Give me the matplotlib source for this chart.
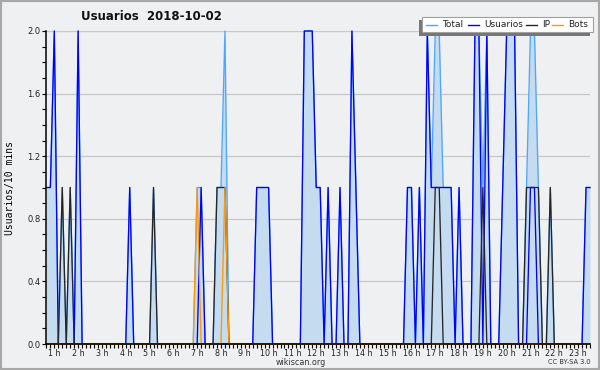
import matplotlib
matplotlib.use('Agg')
import matplotlib.pyplot as plt
from matplotlib.patches import Rectangle
from matplotlib.lines import Line2D
import numpy as np

# one value per 10 minutes, first bin at 0:40
start_minute = 40
usuarios = [1, 1, 2, 0, 0, 0, 0, 0, 2, 0,
            0, 0, 0, 0, 0, 0, 0, 0, 0, 0,
            0, 1, 0, 0, 0, 0, 0, 0, 0, 0,
            0, 0, 0, 0, 0, 0, 0, 0, 0, 1,
            0, 0, 0, 0, 0, 0, 0, 0, 0, 0,
            0, 0, 0, 1, 1, 1, 1, 0, 0, 0,
            0, 0, 0, 0, 0, 2, 2, 2, 1, 1,
            0, 1, 0, 0, 1, 0, 0, 2, 1, 0,
            0, 0, 0, 0, 0, 0, 0, 0, 0, 0,
            0, 1, 1, 0, 1, 0, 2, 1, 1, 1,
            1, 1, 1, 0, 1, 0, 0, 0, 2, 2,
            0, 2, 0, 0, 0, 1, 2, 2, 2, 0,
            0, 0, 1, 1, 0, 0, 0, 0, 0, 0,
            0, 0, 0, 0, 0, 0, 1, 1]
ip = [0, 0, 0, 0, 1, 0, 1, 0, 0, 0,
      0, 0, 0, 0, 0, 0, 0, 0, 0, 0,
      0, 0, 0, 0, 0, 0, 0, 1, 0, 0,
      0, 0, 0, 0, 0, 0, 0, 0, 0, 0,
      0, 0, 0, 1, 1, 1, 0, 0, 0, 0,
      0, 0, 0, 0, 0, 0, 0, 0, 0, 0,
      0, 0, 0, 0, 0, 0, 0, 0, 0, 0,
      0, 0, 0, 0, 0, 0, 0, 0, 0, 0,
      0, 0, 0, 0, 0, 0, 0, 0, 0, 0,
      0, 0, 0, 0, 0, 0, 0, 0, 1, 1,
      0, 0, 0, 0, 0, 0, 0, 0, 0, 0,
      1, 0, 0, 0, 0, 0, 0, 0, 0, 0,
      0, 1, 1, 1, 1, 0, 0, 1, 0, 0,
      0, 0, 0, 0, 0, 0, 0, 0]
bots = [0, 0, 0, 0, 0, 0, 0, 0, 0, 0,
        0, 0, 0, 0, 0, 0, 0, 0, 0, 0,
        0, 0, 0, 0, 0, 0, 0, 0, 0, 0,
        0, 0, 0, 0, 0, 0, 0, 0, 1, 0,
        0, 0, 0, 0, 0, 1, 0, 0, 0, 0,
        0, 0, 0, 0, 0, 0, 0, 0, 0, 0,
        0, 0, 0, 0, 0, 0, 0, 0, 0, 0,
        0, 0, 0, 0, 0, 0, 0, 0, 0, 0,
        0, 0, 0, 0, 0, 0, 0, 0, 0, 0,
        0, 0, 0, 0, 0, 0, 0, 0, 0, 0,
        0, 0, 0, 0, 0, 0, 0, 0, 0, 0,
        0, 0, 0, 0, 0, 0, 0, 0, 0, 0,
        0, 0, 0, 0, 0, 0, 0, 0, 0, 0,
        0, 0, 0, 0, 0, 0, 0, 0]
total = [1, 1, 2, 0, 1, 0, 1, 0, 2, 0,
         0, 0, 0, 0, 0, 0, 0, 0, 0, 0,
         0, 1, 0, 0, 0, 0, 0, 1, 0, 0,
         0, 0, 0, 0, 0, 0, 0, 0, 1, 1,
         0, 0, 0, 1, 1, 2, 0, 0, 0, 0,
         0, 0, 0, 1, 1, 1, 1, 0, 0, 0,
         0, 0, 0, 0, 0, 2, 2, 2, 1, 1,
         0, 1, 0, 0, 1, 0, 0, 2, 1, 0,
         0, 0, 0, 0, 0, 0, 0, 0, 0, 0,
         0, 1, 1, 0, 1, 0, 2, 1, 2, 2,
         1, 1, 1, 0, 1, 0, 0, 0, 2, 2,
         1, 2, 0, 0, 0, 1, 2, 2, 2, 0,
         0, 1, 2, 2, 1, 0, 0, 1, 0, 0,
         0, 0, 0, 0, 0, 0, 1, 1]
hours = list(range(1, 24))
hour_labels = [f'{h} h' for h in hours]
y_ticks = [0.0, 0.4, 0.8, 1.2, 1.6, 2.0]

series = [('Total', total, '#4da6ff'), ('Usuarios', usuarios, '#0000ff'),
          ('IP', ip, '#262626'), ('Bots', bots, '#ff9900')]

W, H = 600, 370
bg = '#eff0f2'
fx = lambda px: px / W
fy = lambda py: 1 - py / H

fig = plt.figure(figsize=(6, 3.7), dpi=100, facecolor=bg)
ax = fig.add_axes([fx(46), fy(344), (590 - 46) / W, (344 - 31) / H])
ax.set_facecolor(bg)

x = np.arange(len(total))
ax.fill_between(x, total, 0, color='#c4dbf0', lw=0, zorder=2)
for name, vals, col in series:
    ax.plot(x, vals, color=col, lw=0.95, zorder=3, clip_on=False)

ax.set_xlim(-0.1, len(total) - 1)
ax.set_ylim(0, 2.0)

ax.set_yticks(y_ticks)
ax.set_yticklabels([f'{v:.1f}' for v in y_ticks])
ax.set_yticks(np.arange(0, 2.01, 0.1), minor=True)
hour_pos = [(h * 60 - start_minute) / 10 for h in hours]
ax.set_xticks(hour_pos)
ax.set_xticklabels(hour_labels)
ax.set_xticks(x, minor=True)
ax.tick_params(axis='both', which='both', direction='out', length=3, width=0.8,
               color='black', labelsize=6, pad=1, labelcolor='#222222')
ax.tick_params(axis='x', which='major', labelsize=5.8, pad=0.3)
ax.grid(axis='y', which='major', color='#c8c8c8', lw=0.9, zorder=1)
for s in ['top', 'right']:
    ax.spines[s].set_visible(False)
for s in ['left', 'bottom']:
    ax.spines[s].set_linewidth(1.1)
    ax.spines[s].set_zorder(5)

fig.text(fx(151), fy(17), 'Usuarios  2018-10-02', ha='center', va='center',
         fontsize=8.5, fontweight='bold', color='#111111')
fig.text(fx(10), fy(188), 'Usuarios/10 mins', rotation=90, ha='center', va='center',
         fontsize=7, family='DejaVu Sans Mono')
fig.text(fx(300.5), fy(362.5), 'wikiscan.org', ha='center', va='center', fontsize=5.8,
         color='#333333')
fig.text(fx(569), fy(362.5), 'CC BY-SA 3.0', ha='center', va='center', fontsize=4.8,
         color='#333333')

# legend box with shadow down-left
fig.add_artist(Rectangle((fx(418.5), fy(35.5)), (593 - 421.5) / W, 15 / H,
                         transform=fig.transFigure, facecolor='#777777', lw=0, zorder=8))
fig.add_artist(Rectangle((fx(421.5), fy(32)), (593 - 421.5) / W, 15 / H,
                         transform=fig.transFigure, facecolor='white',
                         edgecolor='#a0a0a0', lw=0.8, zorder=9))
leg_pos = [(426, 442.5), (468, 484), (526, 542), (552, 568)]
for (name, vals, col), (lx, tx) in zip(series, leg_pos):
    fig.add_artist(Line2D([fx(lx), fx(lx + 11)], [fy(24.5), fy(24.5)],
                          transform=fig.transFigure, color=col, lw=1.0, zorder=10))
    fig.text(fx(tx), fy(24.5), name, ha='left', va='center', fontsize=6.5,
             color='#222222', zorder=10)

fig.add_artist(Rectangle((0.001, 0.002), 0.997, 0.995, transform=fig.transFigure,
                         facecolor='none', edgecolor='#a8a8a8', lw=1.5, zorder=20))

fig.savefig('out.png', dpi=100, facecolor=bg)
